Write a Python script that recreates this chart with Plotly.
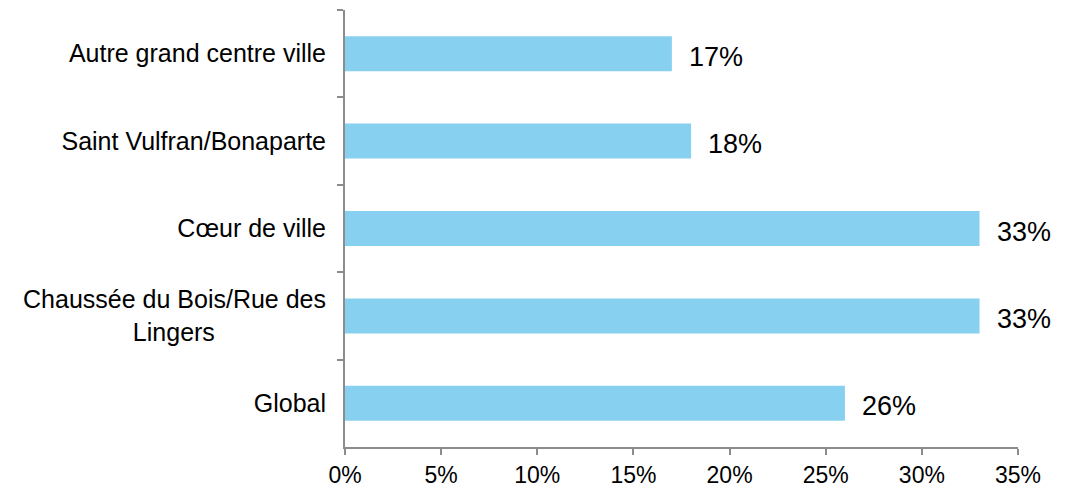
import plotly.graph_objects as go

# Categories listed top to bottom, with their shares in percent
categories = [
    "Autre grand centre ville",
    "Saint Vulfran/Bonaparte",
    "Cœur de ville",
    "Chaussée du Bois/Rue des<br>Lingers" + "\u00a0" * 16,
    "Global",
]
values = [17, 18, 33, 33, 26]
x_ticks = [0, 5, 10, 15, 20, 25, 30, 35]

bar_color = "#88D0F0"
axis_color = "#8C8C8C"
font_family = "Liberation Sans, Arial, sans-serif"

fig = go.Figure()
fig.add_trace(go.Bar(
    x=values,
    y=categories,
    orientation="h",
    marker=dict(color=bar_color, line=dict(width=0)),
    hoverinfo="skip",
))

# Value labels placed just right of each bar end
for cat, v in zip(categories, values):
    fig.add_annotation(
        x=v, y=cat, text=f"{v}%", showarrow=False,
        xanchor="left", yanchor="middle", xshift=15, yshift=-3,
        font=dict(family=font_family, size=27, color="#000000"),
    )

fig.update_layout(
    width=1068, height=490,
    margin=dict(l=345, r=50, t=10, b=43),
    paper_bgcolor="white", plot_bgcolor="white",
    bargap=0.6,
    showlegend=False,
    font=dict(family=font_family, color="#000000"),
)
fig.update_xaxes(
    range=[0, 35], tickvals=x_ticks, ticktext=[f"{t}%" for t in x_ticks],
    showgrid=False, zeroline=False, automargin=False,
    showline=True, linecolor=axis_color, linewidth=2,
    ticks="outside", ticklen=6, tickwidth=2, tickcolor=axis_color,
    tickfont=dict(size=23, family=font_family, color="#000000"),
)
fig.update_yaxes(
    categoryorder="array", categoryarray=categories, autorange="reversed",
    showgrid=False, zeroline=False, automargin=False,
    showline=True, linecolor=axis_color, linewidth=2,
    ticks="outside", ticklen=6, tickwidth=2, tickcolor=axis_color,
    tickson="boundaries", ticklabelstandoff=12,
    tickfont=dict(size=25, family=font_family, color="#000000"),
)

fig.write_html("out.html")
